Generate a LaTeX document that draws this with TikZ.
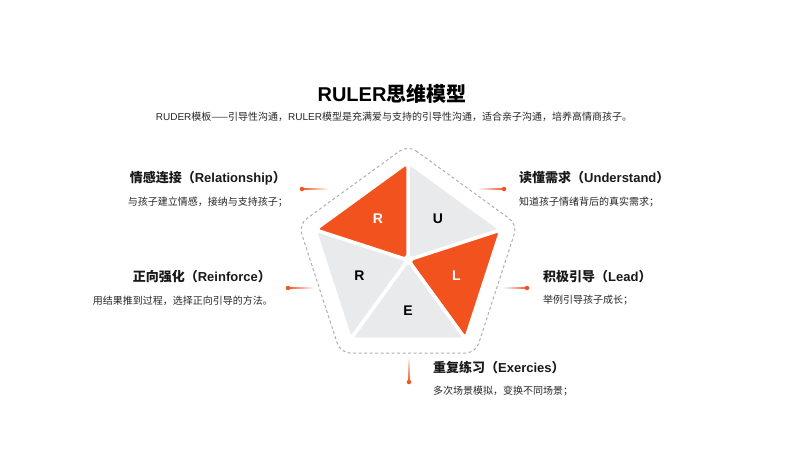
\documentclass[tikz,border=0pt]{standalone}
\usepackage{fontspec}
\setmainfont{Liberation Sans}
\newfontfamily\cjk{Noto Sans CJK SC}
\usetikzlibrary{calc,fadings}
\definecolor{ruorange}{RGB}{242,82,30}
\definecolor{rugray}{RGB}{233,234,236}
\definecolor{rudash}{RGB}{175,175,175}
\newcommand{\zh}[1]{{\cjk #1}}
\tikzset{
	head/.style={inner sep=0pt, font=\fontsize{13}{15}\selectfont\bfseries, text=black!90},
	desc/.style={inner sep=0pt, font=\fontsize{10}{12}\selectfont, text=black!85},
	letter/.style={font=\fontsize{14}{16}\selectfont\bfseries},
	slice/.style={draw=white, line width=3.5pt, rounded corners=5pt},
	tick/.style={line width=1.2pt, draw=ruorange},
	dot/.style={circle, fill=ruorange, inner sep=0pt, minimum size=4.5pt},
}
\begin{document}
\begin{tikzpicture}[x=1pt, y=1pt, yscale=-1]
	\useasboundingbox (0,0) rectangle (800,450);
	\node (title) at (392,94) {\fontsize{20}{24}\selectfont\bfseries RULER\zh{思维模型}};
	\node[desc] (sub) at (394,117) {RUDER\zh{模板——引导性沟通，}RULER\zh{模型是充满爱与支持的引导性沟通，适合亲子沟通，培养高情商孩子。}};
	% pentagon
	\coordinate (c) at (408,260);
	\foreach \i in {0,...,4} {
		\coordinate (p\i) at ($(c)+({-90+72*\i}:98)$);
		\coordinate (q\i) at ($(c)+({-90+72*\i}:115)$);
	}
	\draw[rudash, dashed, dash pattern=on 3pt off 2.5pt, line width=1pt, rounded corners=10pt]
		(q0) -- (q1) -- (q2) -- (q3) -- (q4) -- cycle;
	\foreach \i/\j/\col in {0/1/rugray, 1/2/ruorange, 2/3/rugray, 3/4/rugray, 4/0/ruorange}
		\filldraw[slice, fill=\col] (c) -- (p\i) -- (p\j) -- cycle;
	\node[letter] (u)  at ($(c)+(-54:51)$) {U};
	\node[letter, text=white] (l)  at ($(c)+(18:51)$) {L};
	\node[letter] (e)  at ($(c)+(90:51)$) {E};
	\node[letter] (r2) at ($(c)+(162:51)$) {R};
	\node[letter, text=white] (r1) at ($(c)+(234:51)$) {R};
	% markers
	\node[dot] (d1) at (302,189) {};
	\node[dot] (d2) at (288,288) {};
	\node[dot] (d3) at (504,189) {};
	\node[dot] (d4) at (527,288) {};
	\node[dot] (d5) at (409,382) {};
	\coordinate (e1) at (328,189);
	\coordinate (e2) at (314,288);
	\coordinate (e3) at (478,189);
	\coordinate (e4) at (503,288);
	\coordinate (e5) at (409,357);
	\draw[tick, path fading=east]  (d1.center) -- (e1);
	\draw[tick, path fading=east]  (d2.center) -- (e2);
	\draw[tick, path fading=west]  (d3.center) -- (e3);
	\draw[tick, path fading=west]  (d4.center) -- (e4);
	\shade[top color=white, bottom color=ruorange] ($(e5)+(-0.6,0)$) rectangle ($(d5.center)+(0.6,0)$);
	% texts
	\node[head, anchor=east] (h1) at (286,178) {\zh{情感连接（}Relationship\zh{）}};
	\node[desc, anchor=east] (t1) at (288,202) {\zh{与孩子建立情感，接纳与支持孩子；}};
	\node[head, anchor=east] (h2) at (271,277) {\zh{正向强化（}Reinforce\zh{）}};
	\node[desc, anchor=east] (t2) at (273,301) {\zh{用结果推到过程，选择正向引导的方法。}};
	\node[head, anchor=west] (h3) at (519,178) {\zh{读懂需求（}Understand\zh{）}};
	\node[desc, anchor=west] (t3) at (519,202) {\zh{知道孩子情绪背后的真实需求；}};
	\node[head, anchor=west] (h4) at (543,277) {\zh{积极引导（}Lead\zh{）}};
	\node[desc, anchor=west] (t4) at (543,300) {\zh{举例引导孩子成长；}};
	\node[head, anchor=west] (h5) at (433,368) {\zh{重复练习（}Exercies\zh{）}};
	\node[desc, anchor=west] (t5) at (433,391) {\zh{多次场景模拟，变换不同场景；}};
\end{tikzpicture}
\end{document}
